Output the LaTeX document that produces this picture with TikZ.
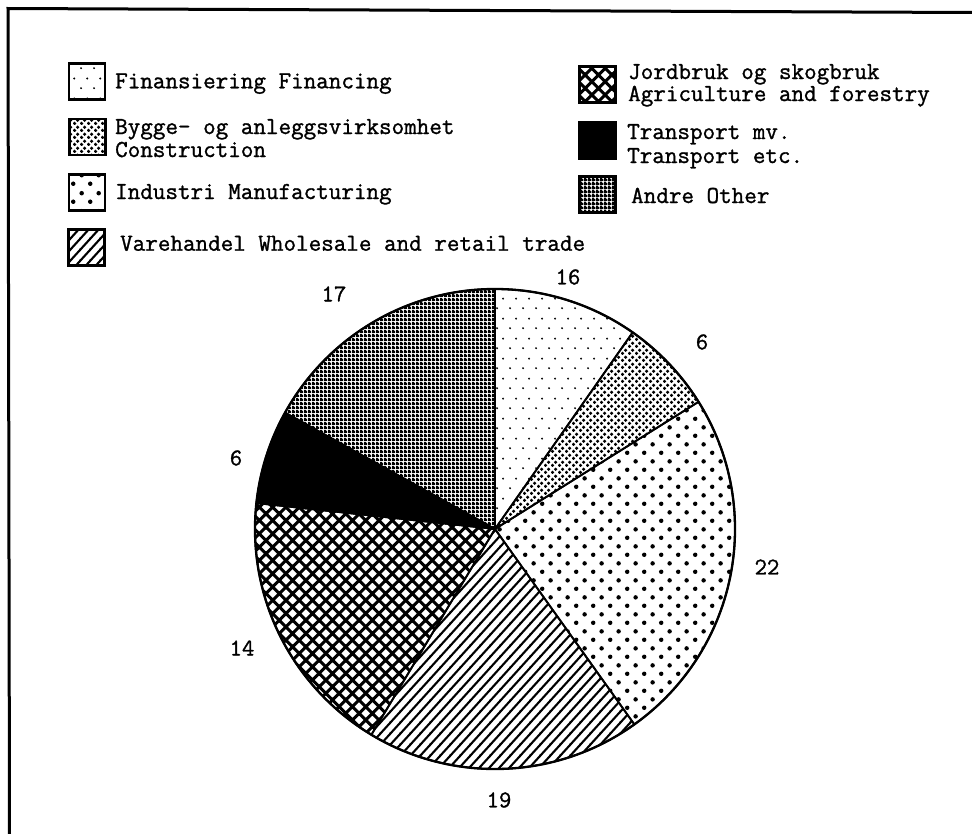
\documentclass[tikz,border=0pt]{standalone}
\usepackage{fontspec}
\newfontfamily\typefont[FakeBold=1.2]{Latin Modern Mono}
\usetikzlibrary{patterns}

\pgfdeclarepatternformonly{findots}{\pgfqpoint{0pt}{0pt}}{\pgfqpoint{13pt}{20pt}}{\pgfqpoint{13pt}{20pt}}{%
  \pgfpathcircle{\pgfqpoint{3.25pt}{5pt}}{1.1pt}%
  \pgfpathcircle{\pgfqpoint{9.75pt}{15pt}}{1.1pt}%
  \pgfusepath{fill}}
\pgfdeclarepatternformonly{inddots}{\pgfqpoint{0pt}{0pt}}{\pgfqpoint{17.4pt}{17.4pt}}{\pgfqpoint{17.4pt}{17.4pt}}{%
  \pgfpathcircle{\pgfqpoint{4.35pt}{4.35pt}}{2.3pt}%
  \pgfpathcircle{\pgfqpoint{13.05pt}{13.05pt}}{2.3pt}%
  \pgfusepath{fill}}
\pgfdeclarepatternformonly{condots}{\pgfqpoint{0pt}{0pt}}{\pgfqpoint{6.6pt}{6.6pt}}{\pgfqpoint{6.6pt}{6.6pt}}{%
  \pgfpathcircle{\pgfqpoint{1.65pt}{1.65pt}}{1.85pt}%
  \pgfpathcircle{\pgfqpoint{4.95pt}{4.95pt}}{1.85pt}%
  \pgfusepath{fill}}
\pgfdeclarepatternformonly{andregrid}{\pgfqpoint{0pt}{0pt}}{\pgfqpoint{4pt}{4pt}}{\pgfqpoint{4pt}{4pt}}{%
  \pgfpathrectangle{\pgfqpoint{0pt}{0pt}}{\pgfqpoint{4pt}{2.6pt}}%
  \pgfpathrectangle{\pgfqpoint{0pt}{0pt}}{\pgfqpoint{2.6pt}{4pt}}%
  \pgfusepath{fill}}
\pgfdeclarepatternformonly{diamondhatch}{\pgfqpoint{-2pt}{-2pt}}{\pgfqpoint{15.3pt}{15.3pt}}{\pgfqpoint{13.3pt}{13.3pt}}{%
  \pgfsetlinewidth{3pt}%
  \pgfpathmoveto{\pgfqpoint{-1.5pt}{-1.5pt}}\pgfpathlineto{\pgfqpoint{14.8pt}{14.8pt}}%
  \pgfpathmoveto{\pgfqpoint{-1.5pt}{14.8pt}}\pgfpathlineto{\pgfqpoint{14.8pt}{-1.5pt}}%
  \pgfusepath{stroke}}
\pgfdeclarepatternformonly{varelines}{\pgfqpoint{-1pt}{-1pt}}{\pgfqpoint{11pt}{12pt}}{\pgfqpoint{10pt}{11pt}}{%
  \pgfsetlinewidth{2.1pt}%
  \pgfpathmoveto{\pgfqpoint{-1pt}{-1.1pt}}\pgfpathlineto{\pgfqpoint{11pt}{12.1pt}}%
  \pgfusepath{stroke}}

\tikzset{
  legbox/.style={draw=black, line width=2.5pt, minimum width=36pt, minimum height=36pt, inner sep=0pt},
  legtext/.style={anchor=base west, inner sep=0pt, font=\fontsize{24.4}{24}\typefont},
  numlab/.style={inner sep=0pt, font=\fontsize{24}{24}\typefont},
  slice/.style={draw=black, line width=1.8pt, line join=round},
  frameline/.style={line width=3pt}
}

\begin{document}
\begin{tikzpicture}[x=1pt,y=-1pt]
\useasboundingbox (0,0) rectangle (972,833);
\fill[white] (0,0) rectangle (972,833);

% frame
\draw[frameline] (9.5,834) -- (8,8.5) -- (973,12.5);

% legend, left column
\node[legbox, pattern=findots] (kfin) at (87,81.5) {};
\node[legtext] (tfin) at (115,88.3) {Finansiering Financing};
\node[legbox, pattern=condots] (kcon) at (87.5,137) {};
\node[legtext] (tcona) at (115,134) {Bygge- og anleggsvirksomhet};
\node[legtext] (tconb) at (115,157) {Construction};
\node[legbox, pattern=inddots] (kind) at (87,192.5) {};
\node[legtext] (tind) at (115,199) {Industri Manufacturing};
\node[legbox, pattern=varelines] (kvar) at (86.5,247.5) {};
\node[legtext] (tvar) at (120,250.7) {Varehandel Wholesale and retail trade};

% legend, right column
\node[legbox, pattern=diamondhatch] (kjor) at (597.5,84.5) {};
\node[legtext] (tjora) at (628,79) {Jordbruk og skogbruk};
\node[legtext] (tjorb) at (628,101) {Agriculture and forestry};
\node[legbox, fill=black] (ktra) at (597.5,140.5) {};
\node[legtext] (ttraa) at (627,139) {Transport mv.};
\node[legtext] (ttrab) at (627,163) {Transport etc.};
\node[legbox, pattern=andregrid] (kand) at (597.5,194.5) {};
\node[legtext] (tand) at (631,203) {Andre Other};

% pie
\coordinate (c) at (495,529);
\draw[slice, pattern=findots] (c) -- ++(-90:240) arc[start angle=-90, end angle=-55, radius=240] -- cycle;
\draw[slice, pattern=condots] (c) -- ++(-55:240) arc[start angle=-55, end angle=-32, radius=240] -- cycle;
\draw[slice, pattern=inddots] (c) -- ++(-32:240) arc[start angle=-32, end angle=54.5, radius=240] -- cycle;
\draw[slice, pattern=varelines] (c) -- ++(54.5:240) arc[start angle=54.5, end angle=121, radius=240] -- cycle;
\draw[slice, pattern=diamondhatch] (c) -- ++(121:240) arc[start angle=121, end angle=186.2, radius=240] -- cycle;
\draw[slice, fill=black] (c) -- ++(186.2:240) arc[start angle=186.2, end angle=209, radius=240] -- cycle;
\draw[slice, pattern=andregrid] (c) -- ++(209:240) arc[start angle=209, end angle=270, radius=240] -- cycle;
\draw[line width=2.3pt] (c) circle[radius=240];

% values
\node[numlab] (n16) at (568,277) {16};
\node[numlab] (n6a) at (702,342) {6};
\node[numlab] (n22) at (767,567) {22};
\node[numlab] (n19) at (499,800) {19};
\node[numlab] (n14) at (242,648) {14};
\node[numlab] (n6b) at (236,458) {6};
\node[numlab] (n17) at (334,294) {17};
\end{tikzpicture}
\end{document}
